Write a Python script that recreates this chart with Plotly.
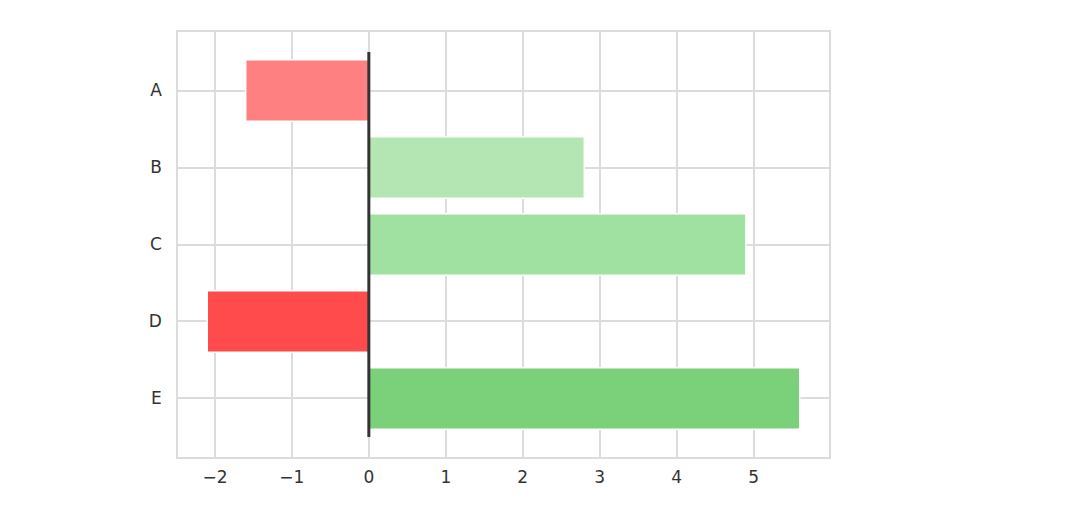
import plotly.graph_objects as go

categories = ["A", "B", "C", "D", "E"]
values = [-1.6, 2.8, 4.9, -2.1, 5.6]
colors = ["#FF8080", "#B3E6B3", "#A0E0A0", "#FF4B4B", "#7AD17A"]
x_tick_vals = [-2, -1, 0, 1, 2, 3, 4, 5]
x_tick_text = ["\u22122", "\u22121", "0", "1", "2", "3", "4", "5"]

positions = list(range(len(categories)))

fig = go.Figure()
fig.add_trace(go.Bar(
    x=values,
    y=positions,
    orientation="h",
    width=0.8,
    marker=dict(color=colors, line=dict(color="white", width=1.5)),
    hoverinfo="x+text",
    text=categories,
    textposition="none",
))

fig.add_shape(type="line", xref="x", yref="y", x0=0, x1=0, y0=-0.5, y1=len(categories) - 0.5,
              line=dict(color="#333333", width=3), layer="above")

grid = "#dcdcdc"
fig.update_layout(
    width=1074, height=510,
    margin=dict(l=170, r=253, t=24, b=61),
    paper_bgcolor="white", plot_bgcolor="white",
    font=dict(family="DejaVu Sans", size=17, color="#333333"),
    showlegend=False,
    bargap=0.2,
    xaxis=dict(
        range=[-2.48, 5.98],
        tickvals=x_tick_vals, ticktext=x_tick_text,
        showgrid=True, gridcolor=grid, gridwidth=1.5,
        zeroline=False,
        showline=True, linecolor=grid, linewidth=1.5, mirror=True,
        ticks="outside", ticklen=4, tickcolor="rgba(0,0,0,0)",
    ),
    yaxis=dict(
        range=[4.76, -0.76],
        tickvals=positions, ticktext=categories,
        showgrid=True, gridcolor=grid, gridwidth=1.5,
        zeroline=False,
        showline=True, linecolor=grid, linewidth=1.5, mirror=True,
        ticks="outside", ticklen=11, tickcolor="rgba(0,0,0,0)",
    ),
)

fig.write_html("out.html")
